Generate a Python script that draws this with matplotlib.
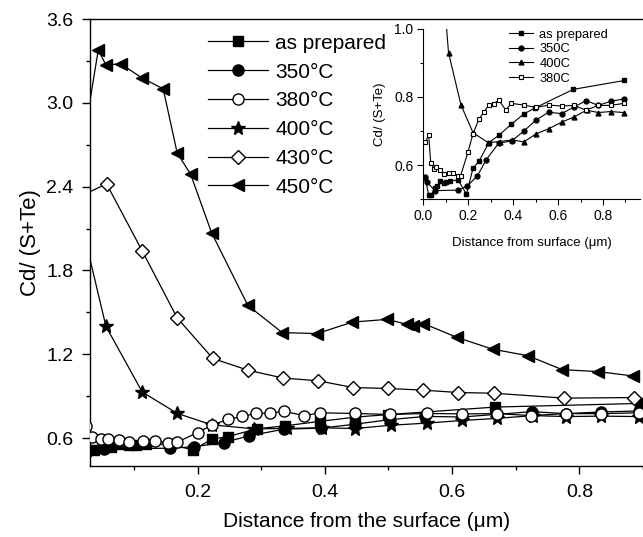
import matplotlib
matplotlib.use("Agg")
import matplotlib.pyplot as plt
from matplotlib.ticker import MultipleLocator, FormatStrFormatter

plt.rcParams['font.family'] = ['Liberation Sans', 'DejaVu Sans']

# depth profiles, Cd/(S+Te) ratio vs distance from surface (um)
x_prep = [0.010, 0.025, 0.037, 0.052, 0.064, 0.077, 0.092, 0.104, 0.119, 0.156,
          0.193, 0.222, 0.248, 0.293, 0.338, 0.393, 0.448, 0.499, 0.668, 0.895]
y_prep = [0.561, 0.511, 0.513, 0.532, 0.538, 0.554, 0.547, 0.551, 0.554, 0.556,
          0.515, 0.591, 0.611, 0.666, 0.688, 0.720, 0.750, 0.768, 0.822, 0.848]

x_350 = [0.010, 0.016, 0.053, 0.157, 0.195, 0.241, 0.281, 0.336, 0.394, 0.447,
         0.502, 0.558, 0.616, 0.671, 0.725, 0.779, 0.834, 0.893]
y_350 = [0.564, 0.551, 0.525, 0.527, 0.538, 0.568, 0.616, 0.664, 0.671, 0.699,
         0.732, 0.755, 0.751, 0.770, 0.789, 0.775, 0.787, 0.794]

x_380 = [0.010, 0.025, 0.034, 0.048, 0.059, 0.077, 0.093, 0.114, 0.133, 0.153,
         0.167, 0.200, 0.222, 0.248, 0.270, 0.292, 0.314, 0.336, 0.368, 0.392,
         0.448, 0.502, 0.560, 0.616, 0.671, 0.724, 0.779, 0.834, 0.893]
y_380 = [0.668, 0.687, 0.606, 0.590, 0.593, 0.585, 0.574, 0.577, 0.577, 0.567,
         0.569, 0.639, 0.692, 0.734, 0.755, 0.776, 0.779, 0.791, 0.761, 0.781,
         0.776, 0.769, 0.776, 0.773, 0.775, 0.761, 0.775, 0.775, 0.781]

x_400 = [0.020, 0.056, 0.113, 0.168, 0.222, 0.289, 0.341, 0.396, 0.447, 0.504,
         0.560, 0.616, 0.671, 0.727, 0.779, 0.834, 0.893]
y_400 = [2.09, 1.40, 0.930, 0.777, 0.695, 0.666, 0.669, 0.674, 0.668, 0.692,
         0.707, 0.726, 0.741, 0.761, 0.754, 0.757, 0.754]

x_430 = [0.020, 0.057, 0.113, 0.168, 0.224, 0.279, 0.334, 0.390, 0.444, 0.500,
         0.555, 0.610, 0.666, 0.776, 0.886]
y_430 = [2.34, 2.42, 1.94, 1.46, 1.17, 1.086, 1.03, 1.01, 0.962, 0.955,
         0.943, 0.926, 0.921, 0.886, 0.890]

x_450 = [0.020, 0.044, 0.056, 0.079, 0.112, 0.146, 0.168, 0.189, 0.222, 0.279,
         0.333, 0.388, 0.443, 0.498, 0.529, 0.539, 0.555, 0.608, 0.664, 0.719,
         0.773, 0.829, 0.884]
y_450 = [2.71, 3.38, 3.27, 3.28, 3.18, 3.10, 2.64, 2.49, 2.07, 1.55,
         1.355, 1.348, 1.43, 1.45, 1.414, 1.40, 1.42, 1.32, 1.236, 1.19,
         1.09, 1.076, 1.045]

fig = plt.figure(figsize=(6.43, 5.37), dpi=100)
ax = fig.add_axes([0.14, 0.1322, 0.86, 0.8324])

lw = 0.9
ax.plot(x_prep, y_prep, '-s', color='k', lw=lw, ms=7, mfc='k', mec='k', label='as prepared', zorder=3)
ax.plot(x_350, y_350, '-o', color='k', lw=lw, ms=8, mfc='k', mec='k', label='350°C', zorder=3)
ax.plot(x_380, y_380, '-o', color='k', lw=lw, ms=8, mfc='white', mec='k', mew=1.0, label='380°C', zorder=5)
ax.plot(x_400, y_400, '-*', color='k', lw=lw, ms=10, mfc='k', mec='k', label='400°C', zorder=4)
ax.plot(x_430, y_430, '-D', color='k', lw=lw, ms=7, mfc='white', mec='k', mew=1.0, label='430°C', zorder=4)
ax.plot(x_450, y_450, '-<', color='k', lw=lw, ms=9, mfc='k', mec='k', label='450°C', zorder=4)

ax.set_xlim(0.031, 0.9)
ax.set_ylim(0.4, 3.6)
ax.xaxis.set_major_locator(MultipleLocator(0.2))
ax.xaxis.set_minor_locator(MultipleLocator(0.1))
ax.yaxis.set_major_locator(MultipleLocator(0.6))
ax.yaxis.set_minor_locator(MultipleLocator(0.3))
ax.xaxis.set_major_formatter(FormatStrFormatter('%.1f'))
ax.yaxis.set_major_formatter(FormatStrFormatter('%.1f'))
ax.tick_params(which='major', direction='out', length=6, width=1, labelsize=14)
ax.tick_params(axis='x', which='major', pad=7)
ax.tick_params(axis='y', which='major', pad=6)
ax.tick_params(which='minor', direction='out', length=3, width=1)
ax.spines['right'].set_visible(False)
for s in ('left', 'bottom', 'top'):
    ax.spines[s].set_linewidth(1.0)
ax.set_xlabel('Distance from the surface (μm)', fontsize=15, labelpad=8)
ax.set_ylabel('Cd/ (S+Te)', fontsize=16, labelpad=4)

ax.legend(loc='upper left', bbox_to_anchor=(0.213, 0.967), frameon=False,
          fontsize=15, handlelength=2.9, handletextpad=0.34, labelspacing=0.47,
          borderpad=0, borderaxespad=0)

# inset: near-surface region
ins = fig.add_axes([0.658, 0.629, 0.3375, 0.3177])
ms_in = 3.5
lw_in = 0.8
ins.plot(x_prep, y_prep, '-s', color='k', lw=lw_in, ms=ms_in, mfc='k', label='as prepared')
ins.plot(x_350, y_350, '-o', color='k', lw=lw_in, ms=ms_in, mfc='k', label='350C')
ins.plot(x_400, y_400, '-^', color='k', lw=lw_in, ms=ms_in, mfc='k', label='400C')
ins.plot(x_380, y_380, '-s', color='k', lw=lw_in, ms=ms_in, mfc='white', mew=0.8, label='380C')
ins.set_xlim(0.0, 0.965)
ins.set_ylim(0.5, 1.0)
ins.xaxis.set_major_locator(MultipleLocator(0.2))
ins.xaxis.set_minor_locator(MultipleLocator(0.1))
ins.yaxis.set_major_locator(MultipleLocator(0.2))
ins.yaxis.set_minor_locator(MultipleLocator(0.1))
ins.xaxis.set_major_formatter(FormatStrFormatter('%.1f'))
ins.yaxis.set_major_formatter(FormatStrFormatter('%.1f'))
ins.tick_params(which='major', direction='out', length=4, width=0.8, labelsize=10, pad=3)
ins.tick_params(which='minor', direction='out', length=2, width=0.8)
ins.spines['top'].set_visible(False)
ins.spines['right'].set_visible(False)
ins.set_xlabel('Distance from surface (μm)', fontsize=9.5, labelpad=10)
ins.set_ylabel('Cd/ (S+Te)', fontsize=9.5, labelpad=6)
ins.legend(loc='upper left', bbox_to_anchor=(0.398, 1.0), frameon=False, fontsize=9.3,
           handlelength=1.86, handletextpad=0.45, labelspacing=0.2, borderpad=0,
           borderaxespad=0)

fig.savefig('out.png', dpi=100)
